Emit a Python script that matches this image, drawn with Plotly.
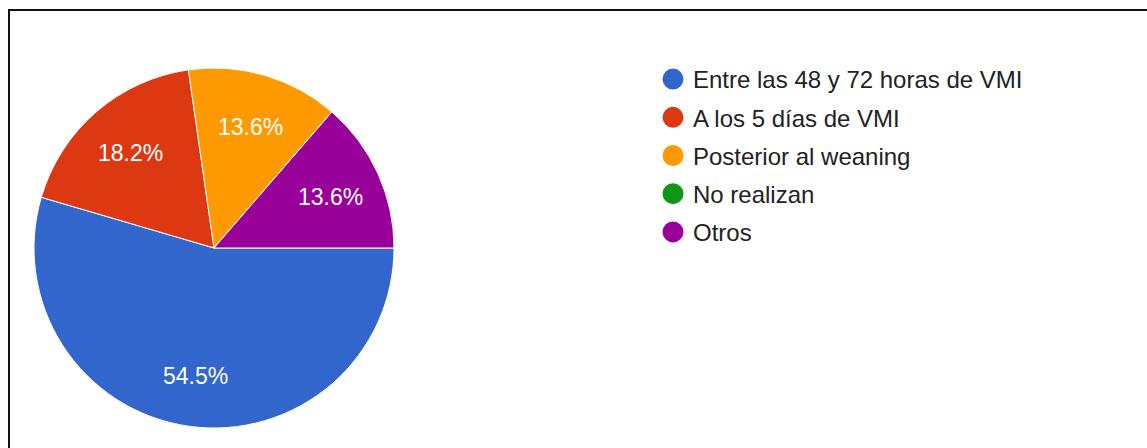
import math
import plotly.graph_objects as go

labels = ["Entre las 48 y 72 horas de VMI", "A los 5 días de VMI", "Posterior al weaning", "No realizan", "Otros"]
values = [12, 4, 3, 0, 3]
colors = ["#3366cc", "#dc3912", "#ff9900", "#109618", "#990099"]

W, H = 1147, 448
FONT = "Arial, Liberation Sans, sans-serif"

# pie geometry (pixels)
CX, CY, R = 214, 248, 180
START = 90  # degrees clockwise from 12 o'clock
LABEL_R = 0.71

fig = go.Figure()
fig.add_trace(go.Pie(
    labels=labels, values=values, sort=False, direction="clockwise", rotation=START,
    marker=dict(colors=colors, line=dict(color="white", width=1)),
    textinfo="none",
    showlegend=False, hoverinfo="label+percent",
    domain=dict(x=[(CX - R) / W, (CX + R) / W], y=[(H - CY - R) / H, (H - CY + R) / H]),
))
for i, (lab, col) in enumerate(zip(labels, colors)):
    fig.add_trace(go.Scatter(
        x=[None], y=[None], mode="markers", name=lab, legendgroup=f"g{i}",
        marker=dict(color=col, size=16, symbol="circle", line=dict(color=col, width=5)),
    ))

# slice labels placed at the mid-angle of each slice
total = sum(values)
annotations = []
acc = 0.0
for v in values:
    if v > 0:
        mid = START + (acc + v / 2) / total * 360
        a = math.radians(mid)
        px = CX + LABEL_R * R * math.sin(a)
        py = CY - LABEL_R * R * math.cos(a) + 2
        annotations.append(dict(
            x=px / W, y=1 - py / H, xref="paper", yref="paper", showarrow=False,
            text=f"{v / total * 100:.1f}%", xanchor="center", yanchor="middle",
            font=dict(color="white", size=23, family=FONT),
        ))
    acc += v

fig.update_layout(
    width=W, height=H, margin=dict(l=0, r=0, t=0, b=0),
    paper_bgcolor="white", plot_bgcolor="white",
    xaxis=dict(visible=False), yaxis=dict(visible=False),
    font=dict(family=FONT, color="#222222"),
    legend=dict(x=653 / W, y=1 - 57 / H, xanchor="left", yanchor="top",
                font=dict(size=24, color="#222222", family=FONT),
                tracegroupgap=4, bgcolor="rgba(0,0,0,0)", itemwidth=30),
    annotations=annotations,
    shapes=[dict(type="rect", xref="paper", yref="paper",
                 x0=9 / W, x1=1.01, y0=-0.05, y1=1 - 10 / H,
                 line=dict(color="#111111", width=2), fillcolor="rgba(0,0,0,0)")],
)
fig.write_html("out.html")
